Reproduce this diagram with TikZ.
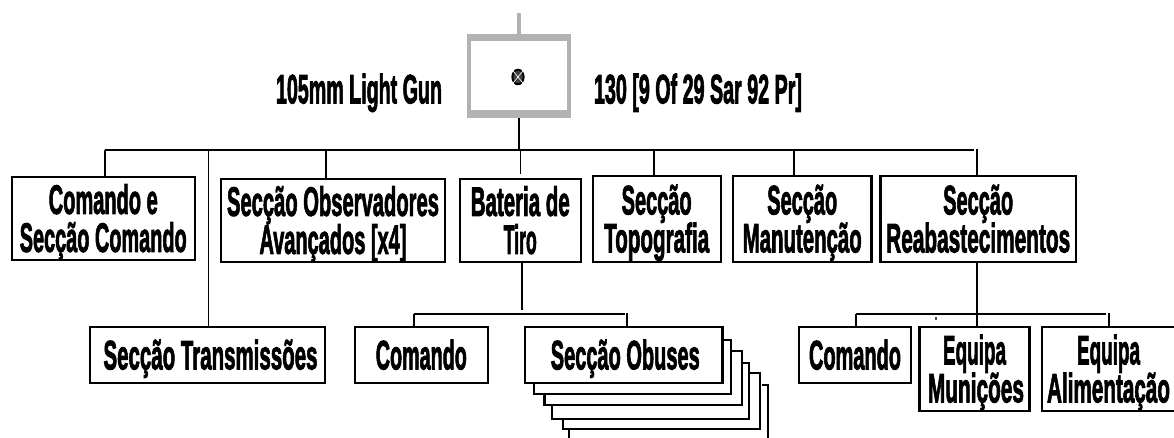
\documentclass[tikz,border=0pt]{standalone}
\usepackage{fontspec}
\usepackage{graphicx}
\setmainfont{Liberation Sans}[BoldFeatures={FakeBold=2.6}]
\usetikzlibrary{shapes.geometric}
\newsavebox{\lblbox}
\newcommand{\T}[2]{\sbox{\lblbox}{#2}\pgfmathsetmacro{\lblx}{#1*0.75/\the\wd\lblbox}\raisebox{0pt}[21.5pt][0pt]{\scalebox{\lblx}[1.14]{\usebox{\lblbox}}}}
\tikzset{
  x=0.75pt,y=-0.75pt,
  unitbox/.style={draw=black,fill=white,line width=1.6pt,inner sep=0pt,align=center,anchor=center,font=\fontsize{27}{28.5}\selectfont\bfseries},
  plainlabel/.style={inner sep=0pt,align=center,font=\fontsize{27}{28.5}\selectfont\bfseries},
  busline/.style={line width=2.2pt,draw=black},
  linkline/.style={line width=1.4pt,draw=black},
}
\newcommand{\ubox}[6]{% name, x0, y0, x1, y1, text
  \node[unitbox,minimum width={(#4-#2)*0.75pt-1.6pt},minimum height={(#5-#3)*0.75pt-1.6pt}] (#1) at ({(#2+#4)/2},{(#3+#5)/2}) {#6};}
\begin{document}
\begin{tikzpicture}
\useasboundingbox (0,0) rectangle (1174,438);
% root
\node[fill=black!30,minimum width=78pt,minimum height=63pt,inner sep=0pt] (root) at (519,76) {};
\node[fill=white,minimum width=71.6pt,minimum height=51.4pt,inner sep=0pt] (rootin) at (519.2,75.7) {};
\coordinate (rtop) at (519,13);
\draw[black!30,line width=3.5pt] (rtop) -- (root.north);
\node[ellipse,draw=black,line width=1.4pt,fill=black!75,minimum width=8.5pt,minimum height=11pt,inner sep=0pt] (sym) at (518,77) {};
\draw[white,line width=.5pt] (sym.north west) -- (sym.south east) (sym.north east) -- (sym.south west);
\node[plainlabel] (lleft) at (359,89) {\T{166}{105mm Light Gun}};
\node[plainlabel] (lright) at (698,89) {\T{208}{130 [9 Of 29 Sar 92 Pr]}};
% stacked boxes, rearmost first
\coordinate (s6a) at (762,385);\coordinate (s6b) at (767.6,385);\coordinate (s6c) at (767.6,438);\coordinate (s6d) at (568.7,438);\coordinate (s6e) at (568.7,425);
\draw[linkline,line width=1.6pt] (s6a) -- (s6b) -- (s6c) (s6d) -- (s6e);
\ubox{s4}{561.8}{372}{761}{430}{}
\ubox{s3}{551}{362}{750.4}{420}{}
\ubox{s2}{543.4}{350}{743}{406}{}
\ubox{s1}{533}{339}{732.4}{395}{}
% upper row
\ubox{cmd}{10.5}{176}{196}{261}{\T{109}{Comando e}\\\T{167}{Secção Comando}}
\ubox{obs}{220}{178}{446}{263}{\T{212}{Secção Observadores}\\\T{147}{Avançados [x4]}}
\ubox{bat}{458.5}{178}{582}{263}{\T{99}{Bateria de}\\\T{33}{Tiro}}
\ubox{top}{591.6}{175}{721.7}{263}{\T{70}{Secção}\\\T{105}{Topografia}}
\ubox{man}{732}{175}{872.5}{263}{\T{70}{Secção}\\\T{119}{Manutenção}}
\ubox{rea}{879.4}{175}{1077}{263}{\T{70}{Secção}\\\T{184}{Reabastecimentos}}
% lower row
\ubox{tra}{89}{326}{326}{384}{\hspace*{4.5pt}\T{214}{Secção Transmissões}}
\ubox{cm2}{353.6}{326}{489}{384}{\T{91}{Comando}}
\ubox{obu}{524}{326}{723.6}{384}{\hspace*{2.2pt}\T{149}{Secção Obuses}}
\ubox{cm3}{798}{326}{912}{384}{\T{92}{Comando}}
\ubox{mun}{918.4}{326}{1030.6}{412}{\T{63}{Equipa}\\\hspace*{2.2pt}\T{96}{Munições}}
\ubox{ali}{1041}{326}{1176}{412}{\T{63}{Equipa}\\\T{123}{Alimentação}}
% main bus
\coordinate (b0) at (105,150);\coordinate (b1) at (974,150);
\coordinate (dtra) at (208.5,150);\coordinate (dobs) at (325.6,150);
\coordinate (dbat) at (520.5,150);\coordinate (dbatE) at (520.5,174);
\coordinate (dtop) at (654,150);\coordinate (dman) at (794.4,150);
\coordinate (drea) at (977.4,149);
\draw[busline] (b0) -- (b1);
\draw[linkline] (root.south) -- (root.south |- b0);
\draw[linkline] (b0) -- (b0 |- cmd.north);
\draw[linkline] (dtra) -- (dtra |- tra.north);
\draw[linkline] (dobs) -- (dobs |- obs.north);
\draw[linkline] (dbat) -- (dbatE);
\draw[linkline] (dtop) -- (dtop |- top.north);
\draw[linkline] (dman) -- (dman |- man.north);
\draw[linkline] (drea) -- (drea |- rea.north);
% Bateria sub tree
\coordinate (ba) at (522.4,263);\coordinate (baE) at (522.4,310);
\coordinate (c0) at (414,314);\coordinate (c1) at (624.5,314);\coordinate (c2) at (627,313);
\draw[linkline] (ba) -- (baE);
\draw[busline] (c0) -- (c1);
\draw[linkline] (c0) -- (c0 |- cm2.north);
\draw[linkline] (c2) -- (c2 |- obu.north);
% Reabastecimentos sub tree
\coordinate (ra) at (977.4,263);
\coordinate (e0) at (856.4,314);\coordinate (e1) at (1106,314);\coordinate (e2) at (1108.6,313);
\draw[busline] (e0) -- (e1);
\draw[linkline,line width=1.6pt] (ra) -- (ra |- mun.north);
\draw[linkline] (e0) -- (e0 |- cm3.north);
\draw[linkline] (e2) -- (e2 |- ali.north);
\fill[black!70] (934.8,316.5) rectangle (936.6,319.5);
\end{tikzpicture}
\end{document}
